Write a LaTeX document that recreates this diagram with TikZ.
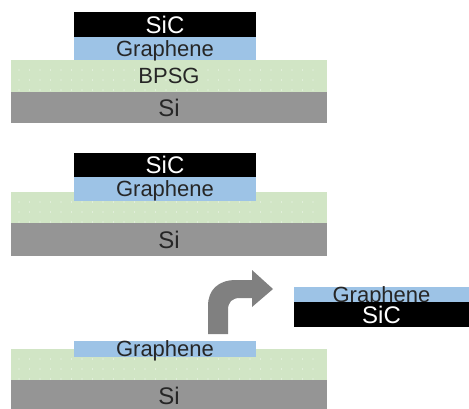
\documentclass[tikz,border=0pt]{standalone}
\usepackage{fontspec}
\setmainfont{Liberation Sans}
\usepackage{tikz}
\usetikzlibrary{positioning}
\definecolor{grblue}{RGB}{157,195,230}
\definecolor{bpsggreen}{RGB}{209,229,197}
\definecolor{sigray}{RGB}{149,149,149}
\definecolor{arrgray}{RGB}{128,128,128}
\definecolor{txtdark}{RGB}{38,38,38}
\newcommand{\bpsgdots}[1]{%
  \foreach \yy in {10,20,30}
    \foreach \xx in {19,29.5,...,322}
      \fill[white,opacity=0.75] (\xx,#1+\yy) circle (0.7pt);}

\begin{document}
\begin{tikzpicture}[x=1pt,y=-1pt,
  lay/.style={inner sep=0pt,outer sep=0pt,text=txtdark,text depth=0pt},
  sic/.style={lay,fill=black,text=white,minimum width=182pt,
    font=\fontsize{24}{24}\selectfont,text height=17.2pt},
  gr/.style={lay,fill=grblue,minimum width=182pt,
    font=\fontsize{22}{22}\selectfont,text height=15.8pt},
  bpsg/.style={lay,fill=bpsggreen,minimum width=316pt,
    font=\fontsize{22}{22}\selectfont,text height=15.8pt},
  si/.style={lay,fill=sigray,minimum width=316pt,
    font=\fontsize{24}{24}\selectfont,text height=17.2pt}]
\useasboundingbox (0,0) rectangle (469,408);
% stack 1
\node[bpsg,minimum height=32pt] (bpsgA) at (169,76){};
\bpsgdots{60}
\node[lay,font=\fontsize{22}{22}\selectfont,text height=15.8pt] at (bpsgA){BPSG};
\node[si,minimum height=31pt] (siA) at (169,107.5){Si};
\node[gr,minimum height=23pt] (grA) at (165,48.5){Graphene};
\node[sic,minimum height=25pt] (sicA) at (165,24.5){SiC};
% stack 2
\node[bpsg,minimum height=31pt] (bpsgB) at (169,207.5){};
\bpsgdots{192}
\node[si,minimum height=33pt] (siB) at (169,239.5){Si};
\node[gr,minimum height=24pt] (grB) at (165,189){Graphene};
\node[sic,minimum height=24pt] (sicB) at (165,165){SiC};
% stack 3
\node[bpsg,minimum height=31pt] (bpsgC) at (169,364.5){};
\bpsgdots{349}
\node[si,minimum height=32pt] (siC) at (169,396){Si};
\node[gr,minimum height=16pt] (grC) at (165,349){Graphene};
% lifted film
\node[gr,minimum width=175pt,minimum height=15pt] (grD) at (381.5,294.5){Graphene};
\node[sic,minimum width=175pt,minimum height=25pt] (sicD) at (381.5,314.5){SiC};
% transfer arrow
\fill[arrgray] (208,334) -- (208,306) .. controls (208,290) and (218,280) .. (236,280)
  -- (252,280) -- (252,270) -- (273,289) -- (252,307) -- (252,298) -- (240,298)
  .. controls (232,298) and (228,302) .. (228,310) -- (228,334) -- cycle;
\end{tikzpicture}
\end{document}
